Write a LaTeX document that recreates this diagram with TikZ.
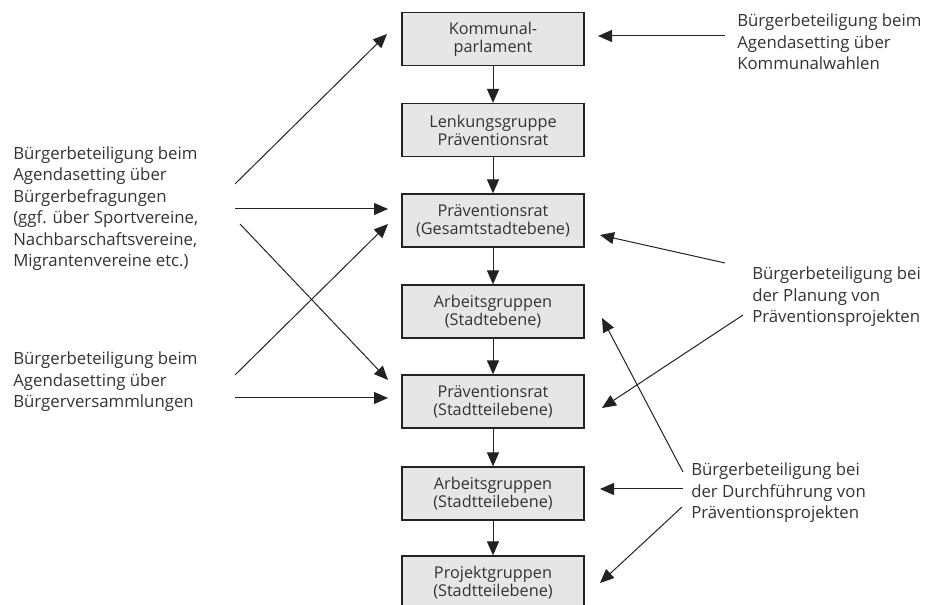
\documentclass[tikz,border=0pt]{standalone}
\usepackage{fontspec}
\setmainfont{Open Sans}
\usetikzlibrary{arrows.meta}
\definecolor{txt}{HTML}{333333}
\definecolor{boxfill}{HTML}{E6E6E6}
\definecolor{ln}{HTML}{222222}
\begin{document}
\begin{tikzpicture}[x=0.75pt,y=-0.75pt,
  box/.style={draw=ln, line width=0.9pt, fill=boxfill, minimum width=136.5pt, minimum height=39.75pt, inner sep=0pt, align=center, font=\fontsize{12.2}{13.6}\selectfont, text=txt},
  lbl/.style={align=left, anchor=west, inner sep=0pt, font=\fontsize{12.6}{16.1}\selectfont, text=txt},
  arr/.style={-{Triangle[length=10.5pt,width=9pt]}, line width=0.75pt, draw=ln}]
\useasboundingbox (0,0) rectangle (933,605);
% boxes
\node[box] (b1) at (493,39) {Kommunal-\\parlament};
\node[box] (b2) at (493,130) {Lenkungsgruppe\\Präventionsrat};
\node[box] (b3) at (493,220.5) {Präventionsrat\\(Gesamtstadtebene)};
\node[box] (b4) at (493,311.5) {Arbeitsgruppen\\(Stadtebene)};
\node[box] (b5) at (493,401.5) {Präventionsrat\\(Stadtteilebene)};
\node[box] (b6) at (493,493.5) {Arbeitsgruppen\\(Stadtteilebene)};
\node[box] (b7) at (493,582.5) {Projektgruppen\\(Stadtteilebene)};
\foreach \a/\b in {b1/b2,b2/b3,b3/b4,b4/b5,b5/b6,b6/b7}
  \draw[arr] (\a) -- (\b);
% labels
\node[lbl] (t1) at (13,208.5) {Bürgerbeteiligung beim\\Agendasetting über\\Bürgerbefragungen\\(ggf. über Sportvereine,\\Nachbarschaftsvereine,\\Migrantenvereine etc.)};
\node[lbl] (t2) at (13,382) {Bürgerbeteiligung beim\\Agendasetting über\\Bürgerversammlungen};
\node[lbl] (t3) at (737,42) {Bürgerbeteiligung beim\\Agendasetting über\\Kommunalwahlen};
\node[lbl] (t4) at (752,297) {Bürgerbeteiligung bei\\der Planung von\\Präventionsprojekten};
\node[lbl] (t5) at (691,493) {Bürgerbeteiligung bei\\der Durchführung von\\Präventionsprojekten};
% arrow end points
\coordinate (a1s) at (235,184); \coordinate (a1e) at (387,34);
\coordinate (a2s) at (235,209); \coordinate (a2e) at (388,209);
\coordinate (a3s) at (240,224); \coordinate (a3e) at (388,380);
\coordinate (a4s) at (235,375); \coordinate (a4e) at (388,224);
\coordinate (a5s) at (235,398); \coordinate (a5e) at (388,398);
\coordinate (r1s) at (725,36);  \coordinate (r1e) at (598,36);
\coordinate (r2s) at (725,263); \coordinate (r2e) at (600,235);
\coordinate (r3s) at (743,315); \coordinate (r3e) at (602,408);
\coordinate (r4s) at (683,472); \coordinate (r4e) at (602,318);
\coordinate (r5s) at (683,489); \coordinate (r5e) at (600,489);
\coordinate (r6s) at (682,507); \coordinate (r6e) at (600,583);
\foreach \n in {a1,a2,a3,a4,a5,r1,r2,r3,r4,r5,r6}
  \draw[arr] (\n s) -- (\n e);
\end{tikzpicture}
\end{document}
